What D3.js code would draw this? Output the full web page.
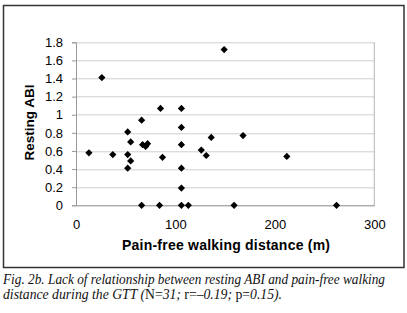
<!DOCTYPE html>
<html>
<head>
<meta charset="utf-8">
<script src="https://cdn.jsdelivr.net/npm/d3@7"></script>
<style>
  body { margin: 0; background: #fff; }
  svg { display: block; }
</style>
</head>
<body>
<div id="chart"></div>
<script>
// walking distance (m) and resting ABI
var distance = [26, 149, 52, 66, 85, 106, 106, 136, 168,
                13, 37, 52, 55, 55, 52, 67, 70, 72, 87, 106, 106, 106, 126, 131, 212,
                66, 84, 106, 113, 159, 262];
var abi = [1.41, 1.72, 0.81, 0.94, 1.07, 1.07, 0.86, 0.75, 0.77,
           0.58, 0.56, 0.56, 0.70, 0.49, 0.41, 0.67, 0.65, 0.68, 0.53, 0.67, 0.41, 0.19, 0.61, 0.55, 0.54,
           0, 0, 0, 0, 0, 0];
var xTicks = [0, 100, 200, 300];
var yTicks = [0, 0.2, 0.4, 0.6, 0.8, 1, 1.2, 1.4, 1.6, 1.8];

var data = distance.map(function(d, i) { return { x: d, y: abi[i] }; });

var W = 407, H = 313;
var margin = { top: 42.3, right: 32.7, bottom: 107.7, left: 76 },
    width = W - margin.left - margin.right,
    height = H - margin.top - margin.bottom;

var svg = d3.select("#chart").append("svg")
    .attr("width", W)
    .attr("height", H);

// outer frame round the chart
svg.append("rect")
    .attr("x", 3.5).attr("y", 5.5)
    .attr("width", 400.5).attr("height", 262)
    .attr("fill", "none")
    .attr("stroke", "#333")
    .attr("stroke-width", 1.5);

var g = svg.append("g")
    .attr("transform", "translate(" + margin.left + "," + margin.top + ")");

var x = d3.scaleLinear().domain([0, 300]).range([0, width]);
var y = d3.scaleLinear().domain([0, 1.8]).range([height, 0]);

// gridlines
g.selectAll(".grid")
    .data(yTicks.slice(1))
    .enter().append("line")
    .attr("class", "grid")
    .attr("x1", 0).attr("x2", width)
    .attr("y1", function(d) { return Math.round(y(d)) + 0.5; })
    .attr("y2", function(d) { return Math.round(y(d)) + 0.5; })
    .attr("stroke", "#cfcfcf")
    .attr("stroke-width", 1);

// right border of plot area
g.append("line")
    .attr("x1", width).attr("x2", width)
    .attr("y1", y(1.8)).attr("y2", y(0))
    .attr("stroke", "#b5b5b5");

// y axis
var yAxis = g.append("g")
    .call(d3.axisLeft(y).tickValues(yTicks).tickSize(4).tickPadding(9)
        .tickFormat(function(d) { return d3.format("")(+d.toFixed(1)); }));
yAxis.select(".domain").attr("stroke", "#999");
yAxis.selectAll(".tick line").attr("stroke", "#999");
yAxis.selectAll("text")
    .attr("font-family", "Liberation Sans, Arial, sans-serif")
    .attr("font-size", 13)
    .attr("fill", "#000");

// x axis
var xAxis = g.append("g")
    .attr("transform", "translate(0," + height + ")")
    .call(d3.axisBottom(x).tickValues(xTicks).tickSize(0).tickPadding(14));
xAxis.select(".domain").attr("stroke", "#888");
xAxis.selectAll("text")
    .attr("font-family", "Liberation Sans, Arial, sans-serif")
    .attr("font-size", 13)
    .attr("fill", "#000");

// points
var diamond = d3.symbol().type(d3.symbolSquare).size(26);
g.selectAll(".dot")
    .data(data)
    .enter().append("path")
    .attr("class", "dot")
    .attr("d", diamond)
    .attr("transform", function(d) {
        return "translate(" + x(d.x) + "," + y(d.y) + ") rotate(45)";
    })
    .attr("fill", "#000");

// axis titles
svg.append("text")
    .attr("x", 226)
    .attr("y", 250)
    .attr("text-anchor", "middle")
    .attr("font-family", "Liberation Sans, Arial, sans-serif")
    .attr("font-size", 14)
    .attr("font-weight", "bold")
    .attr("textLength", 208)
    .attr("lengthAdjust", "spacing")
    .text("Pain-free walking distance (m)");

svg.append("text")
    .attr("transform", "translate(34,122.5) rotate(-90)")
    .attr("text-anchor", "middle")
    .attr("font-family", "Liberation Sans, Arial, sans-serif")
    .attr("font-size", 13.5)
    .attr("font-weight", "bold")
    .attr("textLength", 76)
    .attr("lengthAdjust", "spacingAndGlyphs")
    .text("Resting ABI");

// caption
var capFont = "Liberation Serif, Times New Roman, serif";
svg.append("text")
    .attr("x", 3).attr("y", 284)
    .attr("font-family", capFont)
    .attr("font-size", 14)
    .attr("font-style", "italic")
    .attr("fill", "#111")
    .attr("textLength", 382)
    .attr("lengthAdjust", "spacingAndGlyphs")
    .text("Fig. 2b. Lack of relationship between resting ABI and pain-free walking");

var line2 = svg.append("text")
    .attr("x", 3).attr("y", 298.5)
    .attr("font-family", capFont)
    .attr("font-size", 14)
    .attr("fill", "#111")
    .attr("textLength", 279)
    .attr("lengthAdjust", "spacingAndGlyphs");
var parts = [["distance during the GTT (", true], ["N=", false], ["31; ", true],
             ["r=", false], ["\u20130.19; ", true], ["p=", false], ["0.15).", true]];
parts.forEach(function(p) {
    line2.append("tspan")
        .attr("font-style", p[1] ? "italic" : "normal")
        .text(p[0]);
});
</script>
</body>
</html>
